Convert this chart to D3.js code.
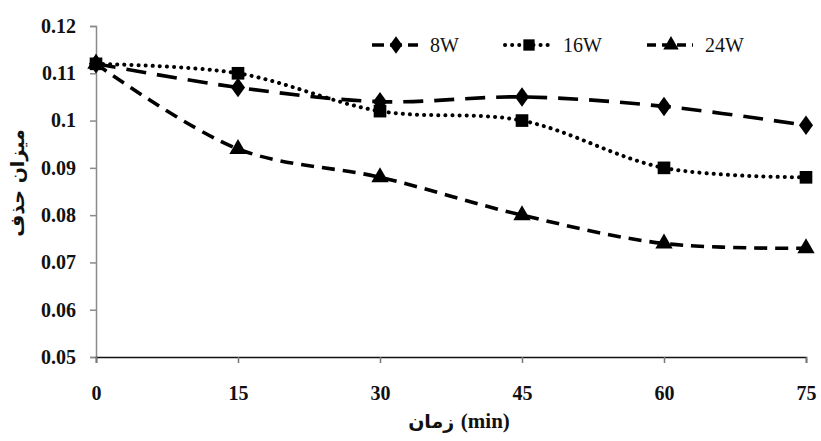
<!DOCTYPE html>
<html><head><meta charset="utf-8">
<script src="https://cdn.jsdelivr.net/npm/d3@7"></script>
<style>body{margin:0;background:#fff}
.serif{font-family:"Liberation Serif","Times New Roman",Times,serif}
</style>
</head><body>
<svg id="c" width="821" height="441"></svg>
<script>
const times = [0, 15, 30, 45, 60, 75];
const w8 = [0.112, 0.107, 0.104, 0.105, 0.103, 0.099];
const w16 = [0.112, 0.110, 0.102, 0.100, 0.090, 0.088];
const w24 = [0.112, 0.094, 0.088, 0.080, 0.074, 0.073];
const seriesNames = ["8W", "16W", "24W"];
const yTicks = [0.05, 0.06, 0.07, 0.08, 0.09, 0.1, 0.11, 0.12];
const xTicks = [0, 15, 30, 45, 60, 75];

const svg = d3.select("#c");
const x = d3.scaleLinear().domain([0, 75]).range([96, 806]);
const y = d3.scaleLinear().domain([0.05, 0.12]).range([357, 26]);

// y axis
const ya = svg.append("g").attr("transform", "translate(96,0)")
  .call(d3.axisLeft(y).tickValues(yTicks).tickSize(6).tickPadding(14).tickFormat(d => String(+d.toFixed(2))));
ya.attr("font-family", null);
ya.select(".domain").attr("stroke", "#8a8a8a").attr("stroke-width", 1.5);
ya.selectAll(".tick line").attr("stroke", "#8a8a8a").attr("stroke-width", 1.5);
ya.selectAll("text").attr("class", "serif").style("font-weight", "bold").style("font-size", "20px").attr("fill", "#111");

// x axis
const xa = svg.append("g").attr("transform", "translate(0,357)")
  .call(d3.axisBottom(x).tickValues(xTicks).tickSize(6).tickPadding(23));
xa.attr("font-family", null);
xa.select(".domain").attr("stroke", "#111").attr("stroke-width", 1.5);
xa.selectAll(".tick line").attr("stroke", "#777").attr("stroke-width", 1.5);
xa.selectAll("text").attr("class", "serif").style("font-weight", "bold").style("font-size", "20px").attr("fill", "#111");

const curve = d3.curveCatmullRom.alpha(0.5);
const series = [
  {name: seriesNames[0], vals: w8, dash: "20,11", cap: "butt", sym: d3.symbolDiamond, size: 110, lw: 3.6},
  {name: seriesNames[1], vals: w16, dash: "0.1,7", cap: "round", sym: d3.symbolSquare, size: 160, lw: 4},
  {name: seriesNames[2], vals: w24, dash: "13,8", cap: "butt", sym: d3.symbolTriangle, size: 130, lw: 3.6}
];

series.forEach(s => {
  const pts = times.map((t, i) => [t, s.vals[i]]);
  svg.append("path").datum(pts)
    .attr("d", d3.line().x(d => x(d[0])).y(d => y(d[1])).curve(curve))
    .attr("fill", "none").attr("stroke", "#000").attr("stroke-width", s.lw)
    .attr("stroke-dasharray", s.dash).attr("stroke-linecap", s.cap);
  svg.append("g").selectAll("path").data(pts).join("path")
    .attr("d", d3.symbol(s.sym, s.size))
    .attr("transform", d => `translate(${x(d[0])},${y(d[1])})` + (s.sym === d3.symbolDiamond ? " scale(1.25,1)" : ""))
    .attr("fill", "#000");
});

// legend
const legX = [372, 505, 647];
series.forEach((s, i) => {
  const g = svg.append("g").attr("transform", `translate(${legX[i]},45)`);
  g.append("line").attr("x1", 0).attr("x2", 46).attr("y1", 0).attr("y2", 0)
    .attr("stroke", "#000").attr("stroke-width", s.lw)
    .attr("stroke-dasharray", i === 0 ? "12,6" : (i === 1 ? "0.1,7" : "9,6"))
    .attr("stroke-linecap", s.cap);
  g.append("path").attr("d", d3.symbol(s.sym, s.size * 0.8)).attr("transform", "translate(24,0)" + (i === 0 ? " scale(1.25,1)" : "")).attr("fill", "#000");
  g.append("text").attr("x", 58).attr("y", 7).text(s.name).attr("class", "serif")
    .style("font-size", "20px").attr("fill", "#111");
});

// axis titles
const xt = svg.append("text").attr("x", 459).attr("y", 428).attr("text-anchor", "middle")
  .style("font-family", "'DejaVu Sans', serif").style("font-weight", "bold").style("font-size", "19px").attr("fill", "#111");
xt.append("tspan").text("زمان ");
xt.append("tspan").attr("class", "serif").style("font-size", "21px").text("(min)");
svg.append("text").attr("transform", "translate(24,183) rotate(-90)").attr("text-anchor", "middle")
  .style("font-family", "'DejaVu Sans', serif").style("font-weight", "bold").style("font-size", "19px").attr("fill", "#111")
  .text("میزان حذف");
</script>
</body></html>
